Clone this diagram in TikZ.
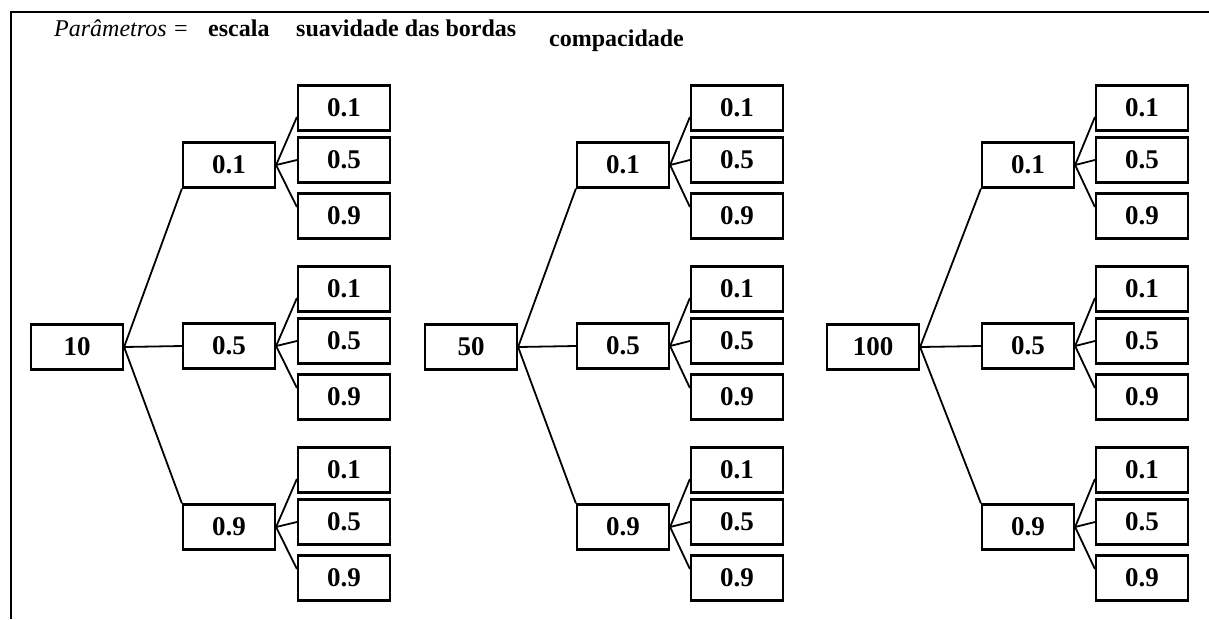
\documentclass[tikz,border=0pt]{standalone}
\usepackage{fontspec}
\setmainfont{Liberation Serif}
\usepackage{tikz}

\tikzset{
  valbox/.style={draw, line width=2.2pt, minimum width=92pt, minimum height=45pt,
                 inner sep=0pt, font=\fontsize{27}{27}\selectfont\bfseries},
  ramo/.style={line width=1.8pt},
  rotulo/.style={anchor=base west, inner sep=0pt, font=\fontsize{24}{26}\selectfont}
}

\begin{document}
\begin{tikzpicture}[x=1pt, y=-1pt]
      \useasboundingbox (0,0) rectangle (1209,619);
      \draw[line width=2pt] (11,619) -- (11,12) -- (1209,12);
      \node[rotulo]     (param) at (54,36)  {\itshape Parâmetros =};
      \node[rotulo]     (escl)  at (208,36) {\bfseries escala};
      \node[rotulo]     (suav)  at (296,36) {\bfseries suavidade das bordas};
      \node[rotulo]     (cmpc)  at (549,46) {\bfseries compacidade};
      \foreach \t/\raiz/\xr/\xm/\xf in {a/10/77/229/344, b/50/471/623/737, c/100/873/1028/1142} {
        \node[valbox]   (esc\t) at (\xr,347) {\raiz};
        \foreach \m/\sv/\ym/\pt in {1/0.1/165/south west, 2/0.5/346/west, 3/0.9/527/north west} {
          \node[valbox] (suav\t\m) at (\xm,\ym) {\sv};
          \path[ramo]   (esc\t.east) edge (suav\t\m.\pt);
          \foreach \n/\cv/\dy/\ys in {1/0.1/-57/-9, 2/0.5/-5/0, 3/0.9/51/9} {
            \node[valbox] (comp\t\m\n) at (\xf,\ym+\dy) {\cv};
            \path[ramo] (suav\t\m.east) edge ([yshift=\ys pt]comp\t\m\n.west);
          }
        }
      }
    \end{tikzpicture}
\end{document}
